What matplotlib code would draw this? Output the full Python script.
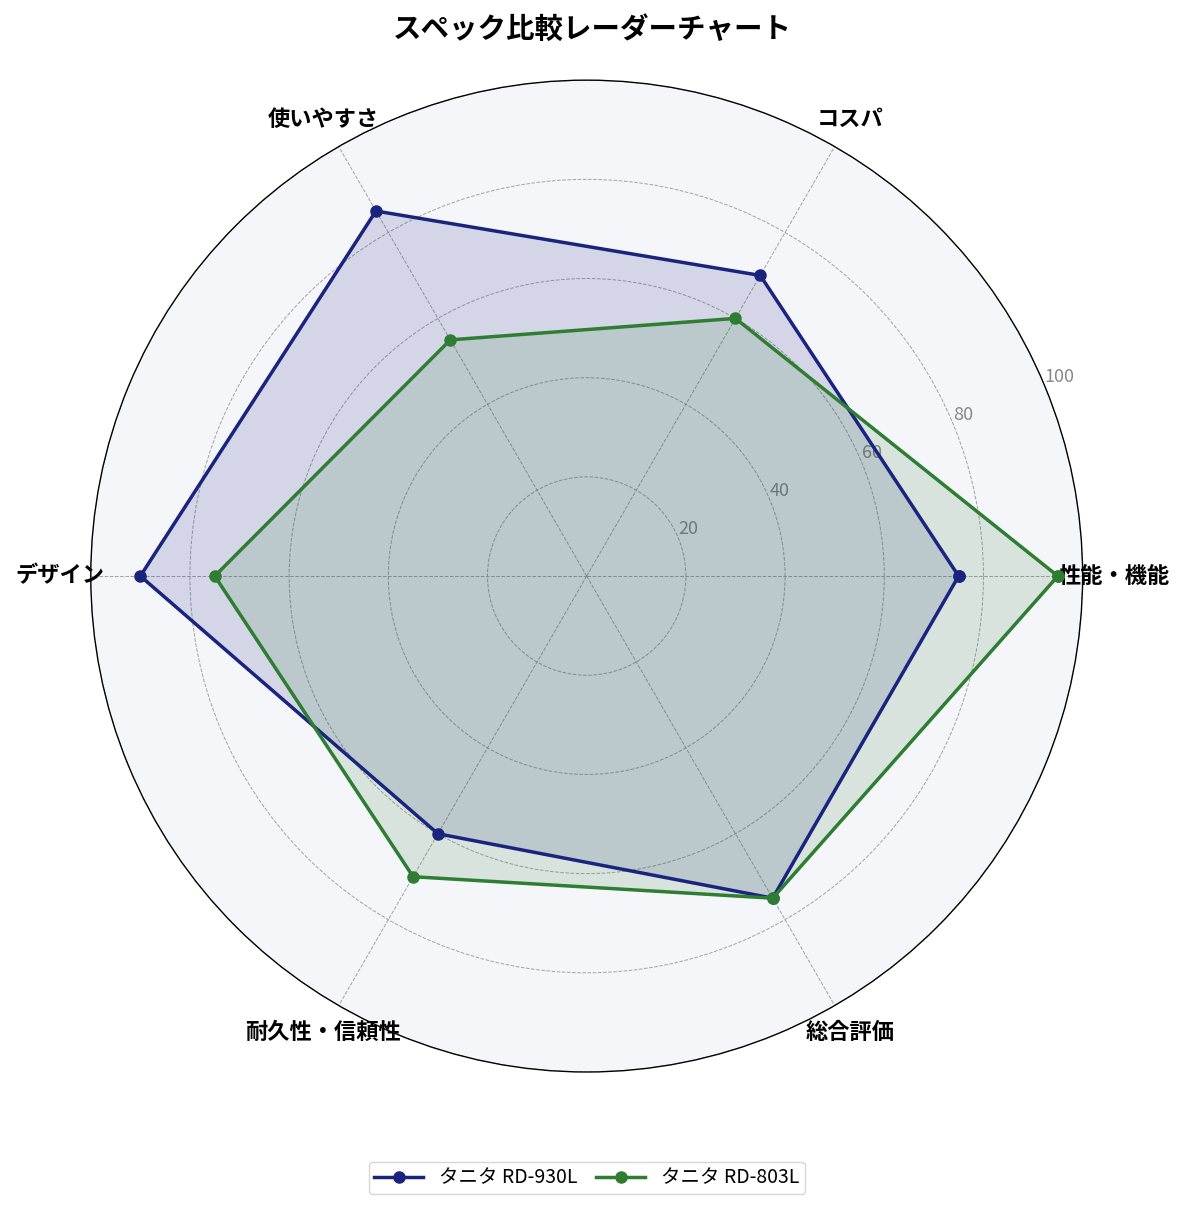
import numpy as np
import matplotlib
matplotlib.use("Agg")
import matplotlib.pyplot as plt

plt.rcParams['font.family'] = ['Noto Sans CJK JP', 'DejaVu Sans']

categories = ["性能・機能", "コスパ", "使いやすさ", "デザイン", "耐久性・信頼性", "総合評価"]
series_names = ["タニタ RD-930L", "タニタ RD-803L"]
values_930 = [75, 70, 85, 90, 60, 75]
values_803 = [95, 60, 55, 75, 70, 75]
r_ticks = [20, 40, 60, 80, 100]
colors = ["#1a237e", "#2e7d32"]

n = len(categories)
angles = np.linspace(0, 2 * np.pi, n, endpoint=False).tolist()
angles_c = angles + angles[:1]

fig = plt.figure(figsize=(11.85, 12.11), dpi=100)
ax = fig.add_axes([0.0766, 0.1145, 0.837, 0.8196], projection='polar')
ax.set_facecolor("#f5f6fa")

for vals, name, c in zip([values_930, values_803], series_names, colors):
    v = vals + vals[:1]
    ax.plot(angles_c, v, color=c, linewidth=2.5, marker='o', markersize=8, label=name, zorder=3)
    ax.fill(angles_c, v, color=c, alpha=0.15, zorder=2)

ax.set_ylim(0, 100)
ax.set_yticks(r_ticks)
ax.set_yticklabels([str(t) for t in r_ticks], color="#888888", fontsize=13)
ax.set_rlabel_position(22.5)
ax.set_xticks(angles)
ax.set_xticklabels(categories, fontsize=16, fontweight='bold')
ax.tick_params(axis='x', pad=12)
ax.grid(True, color="#999999", linestyle='--', linewidth=0.7, alpha=0.9)
ax.spines['polar'].set_color('black')
ax.spines['polar'].set_linewidth(1.0)
for lbl in ax.get_xticklabels():
    lbl.set_zorder(5)

fig.suptitle("スペック比較レーダーチャート", fontsize=20.5, fontweight='bold', y=0.987)
ax.legend(loc='lower center', bbox_to_anchor=(0.5, -0.133), ncol=2, fontsize=14,
          frameon=True, handlelength=2.5, columnspacing=1.0, borderpad=0.3)

fig.savefig("out.png", dpi=100)
